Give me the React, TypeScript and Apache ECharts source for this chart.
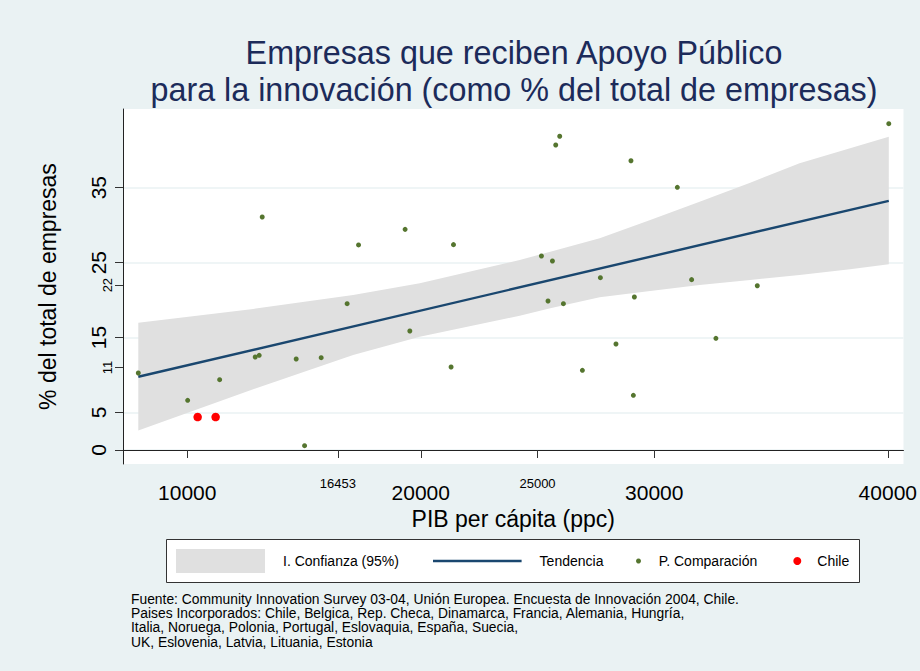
import React, { useEffect, useRef } from 'react';
import * as echarts from 'echarts';

const FONT = '"Liberation Sans", Arial, Helvetica, sans-serif';

// P. Comparación: PIB per cápita (ppc) and % of firms with public support
const pibComparacion = [7903, 10017, 11387, 12910, 13081, 13210, 14665, 15024, 15735, 16847, 17335, 19329, 19531, 21298, 21401, 25167, 25638, 25449, 26108, 25779, 25950, 26921, 27692, 28359, 29001, 29104, 29147, 30987, 31599, 32639, 34411, 40042];
const apoyoComparacion = [10.27, 6.63, 9.38, 12.41, 12.63, 31.09, 12.14, 0.58, 12.32, 19.52, 27.36, 29.44, 15.88, 11.08, 27.4, 25.89, 25.22, 19.88, 19.52, 40.7, 41.86, 10.63, 22.99, 14.14, 38.6, 7.3, 20.42, 35.05, 22.73, 14.9, 21.92, 43.54];

// Chile
const pibChile = [10445, 11215];
const apoyoChile = [4.4, 4.4];

// Tendencia (linear fit)
const trendX = [7903, 40042];
const trendY = [9.77, 33.25];

// I. Confianza (95%)
const bandX = [7903, 12824, 17104, 19958, 24238, 25546, 27662, 29826, 31941, 34106, 36221, 38385, 40042];
const bandUpper = [16.97, 18.82, 20.68, 22.24, 25.35, 26.46, 28.25, 30.69, 33.13, 35.67, 38.26, 40.26, 41.8];
const bandLower = [2.6, 8.1, 12.68, 15.12, 17.92, 18.9, 20.38, 21.22, 22.02, 22.68, 23.35, 24.11, 24.78];

// Axis ticks
const xMajorTicks = [10000, 20000, 30000, 40000];
const xMinorTicks = [16453, 25000];
const yMajorTicks = [0, 5, 15, 25, 35];
const yMinorTicks = [11, 22];

const X_MIN = 7248;
const X_MAX = 40671;
const Y_MIN = -1.868;
const Y_MAX = 45.5;

const footnoteLines = [
  'Fuente: Community Innovation Survey 03-04, Unión Europea. Encuesta de Innovación 2004, Chile.',
  'Paises Incorporados: Chile, Belgica, Rep. Checa, Dinamarca, Francia, Alemania, Hungría,',
  'Italia, Noruega, Polonia, Portugal, Eslovaquia, España, Suecia,',
  'UK, Eslovenia, Latvia, Lituania, Estonia',
];

const NAVY = '#1a476f';
const GREEN = '#55752f';
const BAND = '#e0e0e0';
const BG = '#eaf2f3';

export default function App() {
  const ref = useRef<HTMLDivElement>(null);

  useEffect(() => {
    if (!ref.current) return;
    const chart = echarts.init(ref.current, undefined, { renderer: 'svg' });
    const fmt = (v: number) => String(v);

    const legendBase = {
      orient: 'horizontal',
      padding: 0,
      itemGap: 0,
      selectedMode: false,
      textStyle: { fontSize: 14, color: '#000', fontFamily: FONT },
    };

    const option: any = {
      animation: false,
      backgroundColor: BG,
      textStyle: { fontFamily: FONT },
      title: {
        text: 'Empresas que reciben Apoyo Público\npara la innovación (como % del total de empresas)',
        left: 514,
        top: 34,
        padding: 0,
        textAlign: 'center',
        textStyle: { fontSize: 32.3, fontWeight: 'normal', color: '#1c2b5a', lineHeight: 37, fontFamily: FONT },
      },
      grid: { left: 123, top: 109, width: 781, height: 355, show: true, backgroundColor: '#ffffff', borderWidth: 0 },
      xAxis: [
        {
          type: 'value', min: X_MIN, max: X_MAX,
          axisLine: { show: true, lineStyle: { color: '#222', width: 1 } },
          axisTick: { show: true, length: 8, customValues: xMajorTicks, lineStyle: { color: '#333' } },
          axisLabel: { customValues: xMajorTicks, formatter: fmt, fontSize: 21, color: '#000', margin: 18 },
          splitLine: { show: false },
          name: 'PIB per cápita (ppc)', nameLocation: 'middle', nameGap: 39,
          nameTextStyle: { fontSize: 23, color: '#000' },
        },
        {
          type: 'value', min: X_MIN, max: X_MAX, position: 'bottom',
          axisLine: { show: false },
          axisTick: { show: true, length: 8, customValues: xMinorTicks, lineStyle: { color: '#333' } },
          axisLabel: { customValues: xMinorTicks, formatter: fmt, fontSize: 13, color: '#000', margin: 13 },
          splitLine: { show: false },
        },
      ],
      yAxis: [
        {
          type: 'value', min: Y_MIN, max: Y_MAX,
          axisLine: { show: true, lineStyle: { color: '#222', width: 1 } },
          axisTick: { show: true, length: 8, customValues: yMajorTicks, lineStyle: { color: '#333' } },
          axisLabel: { customValues: yMajorTicks, formatter: fmt, fontSize: 21, color: '#000', margin: 14, rotate: 90 },
          splitLine: { show: true, lineStyle: { color: BG, width: 1.5 } },
          name: '% del total de empresas', nameLocation: 'middle', nameGap: 64,
          nameTextStyle: { fontSize: 23, color: '#000' },
        },
        {
          type: 'value', min: Y_MIN, max: Y_MAX, position: 'left',
          axisLine: { show: false },
          axisTick: { show: true, length: 8, customValues: yMinorTicks, lineStyle: { color: '#333' } },
          axisLabel: { customValues: yMinorTicks, formatter: fmt, fontSize: 13, color: '#000', margin: 9, rotate: 90 },
          splitLine: { show: false },
        },
      ],
      legend: [
        { ...legendBase, left: 176, top: 549, itemWidth: 89, itemHeight: 24,
          data: [{ name: 'I. Confianza (95%)', icon: 'rect', itemStyle: { color: BAND, borderWidth: 0 } }],
          textStyle: { ...legendBase.textStyle, padding: [0, 0, 0, 13] } },
        { ...legendBase, left: 433, top: 554, itemWidth: 88.6, itemHeight: 2.5,
          data: [{ name: 'Tendencia', icon: 'rect', itemStyle: { color: NAVY, borderWidth: 0 } }],
          textStyle: { ...legendBase.textStyle, padding: [0, 0, 0, 13] } },
        { ...legendBase, left: 636, top: 554, itemWidth: 5, itemHeight: 5,
          data: [{ name: 'P. Comparación', icon: 'circle', itemStyle: { color: GREEN, opacity: 1 } }],
          textStyle: { ...legendBase.textStyle, padding: [0, 0, 0, 12.7] } },
        { ...legendBase, left: 793.3, top: 554, itemWidth: 8, itemHeight: 8,
          data: [{ name: 'Chile', icon: 'circle', itemStyle: { color: '#ff0000', opacity: 1 } }],
          textStyle: { ...legendBase.textStyle, padding: [0, 0, 0, 11] } },
      ],
      graphic: [
        {
          type: 'rect', z: 0,
          shape: { x: 166.5, y: 539.5, width: 693, height: 43 },
          style: { fill: '#ffffff', stroke: '#333333', lineWidth: 1 },
        },
        ...footnoteLines.map((line, i) => ({
          type: 'text', left: 131, top: 592 + i * 14.2, z: 1,
          style: { text: line, fontSize: 13.85, fill: '#000', fontFamily: FONT },
        })),
      ],
      series: [
        {
          type: 'custom',
          name: 'I. Confianza (95%)',
          xAxisIndex: 0, yAxisIndex: 0,
          z: 1, silent: true,
          itemStyle: { color: BAND },
          data: bandX.map((x, i) => [x, bandUpper[i], bandLower[i]]),
          encode: { x: 0, y: [1, 2] },
          renderItem: (params: any, api: any) => {
            if (params.dataIndex !== 0) return null;
            const pts: number[][] = [];
            for (let i = 0; i < bandX.length; i++) pts.push(api.coord([bandX[i], bandUpper[i]]));
            for (let i = bandX.length - 1; i >= 0; i--) pts.push(api.coord([bandX[i], bandLower[i]]));
            return { type: 'polygon', shape: { points: pts }, style: { fill: BAND, stroke: 'none' } };
          },
        },
        {
          type: 'line',
          name: 'Tendencia',
          xAxisIndex: 0, yAxisIndex: 0,
          z: 3,
          symbol: 'none',
          lineStyle: { color: NAVY, width: 2.4 },
          itemStyle: { color: NAVY },
          data: trendX.map((x, i) => [x, trendY[i]]),
        },
        {
          type: 'scatter',
          name: 'P. Comparación',
          xAxisIndex: 0, yAxisIndex: 0,
          z: 4,
          symbolSize: 5,
          itemStyle: { color: GREEN, opacity: 1 },
          data: pibComparacion.map((x, i) => [x, apoyoComparacion[i]]),
        },
        {
          type: 'scatter',
          name: 'Chile',
          xAxisIndex: 0, yAxisIndex: 0,
          z: 5,
          symbolSize: 8.5,
          itemStyle: { color: '#ff0000', opacity: 1 },
          data: pibChile.map((x, i) => [x, apoyoChile[i]]),
        },
      ],
    };

    chart.setOption(option);
    return () => chart.dispose();
  }, []);

  return (
    <div
      ref={ref}
      style={{ position: 'fixed', left: 0, top: 0, width: 920, height: 671 }}
    />
  );
}
